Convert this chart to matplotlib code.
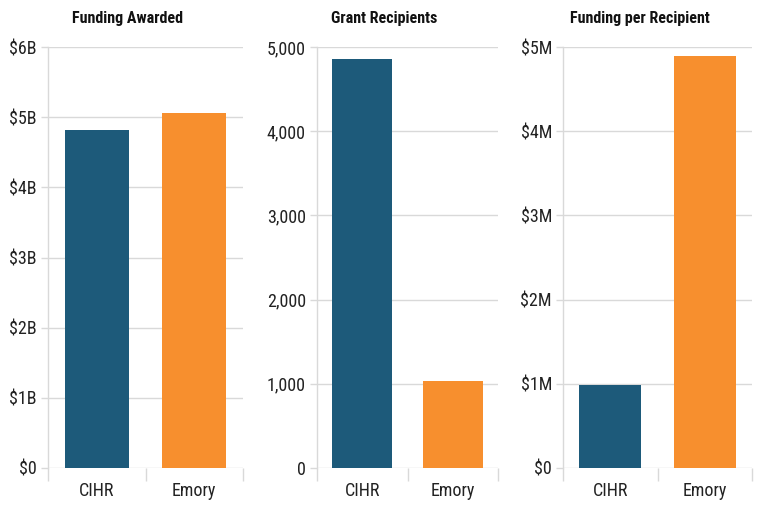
import matplotlib
matplotlib.use("Agg")
import matplotlib.pyplot as plt
from matplotlib.ticker import FuncFormatter, FixedLocator

plt.rcParams['font.family'] = ['Roboto Condensed', 'DejaVu Sans']

categories = ["CIHR", "Emory"]
funding_awarded = [4.82e9, 5.06e9]
grant_recipients = [4857, 1035]
funding_per_recipient = [0.99e6, 4.89e6]
titles = ["Funding Awarded", "Grant Recipients", "Funding per Recipient"]
colors = ["#1d5a7a", "#f78f2e"]

fig = plt.figure(figsize=(7.68, 5.07), dpi=100)
W, H = 768, 507
panels = [
    (48, 243, funding_awarded, 6e9, 1e9, lambda v, p: "$0" if v == 0 else f"${v/1e9:.0f}B"),
    (317, 498, grant_recipients, 5000, 1000, lambda v, p: f"{v:,.0f}"),
    (563, 752, funding_per_recipient, 5e6, 1e6, lambda v, p: "$0" if v == 0 else f"${v/1e6:.0f}M"),
]
grid_c = "#d9d9d9"
for i, ((l, r, vals, top, step, fmt), title) in enumerate(zip(panels, titles)):
    ax = fig.add_axes([l / W, 1 - 468 / H, (r - l) / W, (468 - 47) / H])
    ax.bar(range(len(categories)), vals, width=0.66, color=colors, zorder=3)
    ax.set_xlim(-0.5, 1.5)
    ax.set_ylim(0, top)
    ax.yaxis.set_major_locator(FixedLocator([k * step for k in range(int(round(top / step)) + 1)]))
    ax.yaxis.set_major_formatter(FuncFormatter(fmt))
    ax.set_xticks(range(len(categories)))
    ax.set_xticklabels(categories)
    ax.xaxis.set_minor_locator(FixedLocator([-0.5, 0.5, 1.5]))
    ax.tick_params(axis='x', which='major', length=0, pad=10, labelsize=13, colors='#222222')
    ax.tick_params(axis='x', which='minor', length=9, width=1, color=grid_c)
    ax.tick_params(axis='y', length=5, width=1, color=grid_c, labelsize=13, labelcolor='#222222', pad=3)
    ax.grid(axis='y', color=grid_c, linewidth=1, zorder=0)
    for s in ['top', 'right', 'bottom']:
        ax.spines[s].set_visible(False)
    ax.spines['left'].set_color(grid_c)
    ax.spines['left'].set_linewidth(1)
    fig.text((i + 0.5) / 3, 1 - 19 / H, title, ha='center', va='center',
             fontsize=11.5, fontweight='bold', color='#111111')

fig.savefig("out.png", dpi=100)
